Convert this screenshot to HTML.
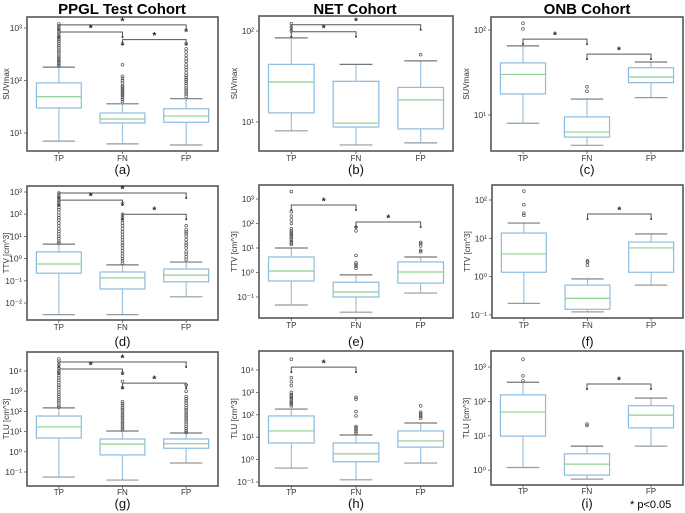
<!DOCTYPE html>
<html><head><meta charset="utf-8">
<style>
html,body{margin:0;padding:0;background:#fff;}
svg{display:block;font-family:"Liberation Sans",sans-serif;}
</style></head>
<body>
<svg id="fig" width="685" height="513" viewBox="0 0 685 513" xmlns="http://www.w3.org/2000/svg">
<text x="122" y="14" font-size="15" font-weight="bold" text-anchor="middle">PPGL Test Cohort</text>
<text x="355" y="14" font-size="15" font-weight="bold" text-anchor="middle">NET Cohort</text>
<text x="587" y="14" font-size="15" font-weight="bold" text-anchor="middle">ONB Cohort</text>
<text x="630" y="508" font-size="11">* p&lt;0.05</text>
</svg>
<script>
// categories
const categories = ["TP","FN","FP"];
// box stats [whiskerLow, q1, median, q3, whiskerHigh]
const boxA = [[7,30,49,90,180],[6.2,15.5,18.5,24,36],[5.9,16,21,29,45]];
const boxB = [[8,12.6,27.5,43,84],[5.6,8.8,9.7,28,43],[5.9,8.4,17.5,24,47]];
const boxC = [[8,17.7,30,41,65],[4.4,5.5,6.3,9.5,15.4],[16,24,28,36,42]];
const boxD = [[0.003,0.22,0.57,2.0,4.5],[0.003,0.043,0.135,0.25,0.52],[0.019,0.09,0.18,0.34,0.7]];
const boxE = [[0.047,0.45,1.15,4.3,10],[0.024,0.1,0.16,0.4,0.8],[0.145,0.37,1.05,2.7,4.3]];
const boxF = [[0.2,1.3,3.9,13.7,25],[0.12,0.14,0.27,0.6,0.87],[0.6,1.3,5.6,8,13]];
const boxG = [[0.056,4.8,17,59,150],[0.04,0.7,2.4,4.3,10.7],[0.28,1.5,2.5,4.3,8.5]];
const boxH = [[0.42,5.5,19,89,180],[0.125,0.8,1.8,5.5,12.5],[0.7,3.6,6.8,19,43]];
const boxI = [[1.2,9.8,49,155,360],[0.55,0.72,1.5,3,5],[5,17,40,75,125]];
// outliers
const outA = [[190,200,215,230,250,270,290,320,350,380,420,460,500,550,600,650,700,800,900,1000,1100,1200],
              [40,44,48,52,56,60,65,70,75,80,90,100,110,120,200,500],
              [50,55,60,66,72,80,88,96,105,115,125,140,160,180,200,230,260,300,350,400,500,900]];
const outB = [[100,110,120],[],[55]];
const outC = [[103,120],[19,21.5],[]];
const outD = [[5,6,8,10,13,17,22,30,40,55,70,90,120,160,200,260,330,420,550,700,900],
              [0.6,0.8,1,1.3,1.7,2.2,3,4,5,7,9,12,16,22,30,40,55,70,100,300],
              [0.9,1.2,1.6,2,3,4,5,7,10,13,16,20,30]];
const outE = [[14,16,18,22,26,30,36,42,50,60,100,140,200,300,2000],[1.5,1.8,2.1,2.5,5,50,70],[7,8,12,15,17]];
const outF = [[40,45,75,170],[2,2.4,2.6],[]];
const outG = [[160,200,260,330,420,550,700,900,1200,1600,2000,2700,3500,4500,6000,8000,10000,14000,20000,30000,40000],
              [12,15,19,24,30,38,48,60,75,95,120,150,190,240,300,1500,3000,8000],
              [9,11,14,18,23,30,38,48,60,75,95,120,150,200,260,330,420,550,1000,2000]];
const outH = [[250,300,350,420,500,600,700,800,1000,2000,3000,4500,30000],[15,18,22,26,30,90,140,500,600],[70,85,100,115,130,250]];
const outI = [[400,550,1700],[20,22],[]];
// significance brackets [fromIndex, toIndex, level]
const brA = [[0,2,1150],[0,1,840],[1,2,600]];
const brB = [[0,2,117],[0,1,98]];
const brC = [[0,1,78],[1,2,52]];
const brD = [[0,2,900],[0,1,430],[1,2,100]];
const brE = [[0,1,570],[1,2,115]];
const brF = [[1,2,43]];
const brG = [[0,2,28000],[0,1,12500],[1,2,2500]];
const brH = [[0,1,13500]];
const brI = [[1,2,320]];
// tick exponents
const ticksA=[1,2,3], ticksB=[1,2], ticksC=[1,2], ticksD=[-2,-1,0,1,2,3], ticksE=[-1,0,1,2,3],
      ticksF=[-1,0,1,2], ticksG=[-1,0,1,2,3,4], ticksH=[-1,0,1,2,3,4], ticksI=[0,1,2,3];
const ylabels = ["SUVmax","SUVmax","SUVmax","TTV [cm^3]","TTV [cm^3]","TTV [cm^3]","TLU [cm^3]","TLU [cm^3]","TLU [cm^3]"];
const letters = ["(a)","(b)","(c)","(d)","(e)","(f)","(g)","(h)","(i)"];

// layout (pixels)
const layout = [
 {f:[27,17,218,151], re:1, rp:133, pd:52.5, lab:174, tk:10},
 {f:[259,16,453,151], re:1, rp:122, pd:91, lab:174, tk:10},
 {f:[491,17,683,151], re:1, rp:115, pd:85, lab:174, tk:10},
 {f:[27,186,218,320], re:3, rp:192, pd:22.2, lab:346, tk:10},
 {f:[259,185,453,318], re:3, rp:199, pd:24.5, lab:346, tk:10},
 {f:[492,185,683,318], re:2, rp:200, pd:38.3, lab:346, tk:10},
 {f:[27,352,218,486], re:4, rp:371, pd:20.2, lab:508, tk:9},
 {f:[259,351,453,486], re:4, rp:370, pd:22.4, lab:508, tk:9},
 {f:[491,351,683,485], re:3, rp:367, pd:34.4, lab:508, tk:9}
];
const boxes=[boxA,boxB,boxC,boxD,boxE,boxF,boxG,boxH,boxI];
const outs=[outA,outB,outC,outD,outE,outF,outG,outH,outI];
const brs=[brA,brB,brC,brD,brE,brF,brG,brH,brI];
const ticks=[ticksA,ticksB,ticksC,ticksD,ticksE,ticksF,ticksG,ticksH,ticksI];

const NS="http://www.w3.org/2000/svg";
const svg=document.getElementById('fig');
function mk(tag,attrs,parent){const e=document.createElementNS(NS,tag);for(const k in attrs)e.setAttribute(k,attrs[k]);(parent||svg).appendChild(e);return e;}
const sup={"-":"⁻","0":"⁰","1":"¹","2":"²","3":"³","4":"⁴"};

for(let p=0;p<9;p++){
  const L=layout[p];
  const [x0,y0,x1,y1]=L.f;
  const g=mk('g',{});
  
  
  const yS=v=>L.rp-(Math.log10(v)-L.re)*L.pd;
  const w=x1-x0;
  const xS=i=>x0+w*(i+0.5)/3;
  const bw=w*0.235;
  const fr=mk('rect',{x:x0,y:y0,width:w,height:y1-y0,fill:'#fff',stroke:'#555','stroke-width':1.6},g);
  
  
  ticks[p].forEach(e=>{
    const y=L.rp-(e-L.re)*L.pd;
    mk('line',{x1:x0-3,x2:x0,y1:y,y2:y,stroke:'#555','stroke-width':0.8},g);
    const t=mk('text',{x:x0-5,y:y+3,'font-size':8.5,'text-anchor':'end',fill:'#333'},g);
    t.textContent='10'+String(e).split('').map(c=>sup[c]).join('');
    
    
  });
  const yt=mk('text',{x:0,y:0,'font-size':8,'text-anchor':'middle',fill:'#333',transform:`translate(${x0-(p%3===0?18:22)},${(y0+y1)/2}) rotate(-90)`},g);
  yt.textContent=ylabels[p];
  
  
  categories.forEach((c,i)=>{
    const b=boxes[p][i], cx=xS(i);
    const bg=mk('g',{},g);
    
    
    mk('line',{x1:cx,x2:cx,y1:yS(b[0]),y2:yS(b[1]),stroke:'#9cc3e0','stroke-width':1.2},bg);
    mk('line',{x1:cx,x2:cx,y1:yS(b[3]),y2:yS(b[4]),stroke:'#9cc3e0','stroke-width':1.2},bg);
    mk('line',{x1:cx-bw*0.36,x2:cx+bw*0.36,y1:yS(b[0]),y2:yS(b[0]),stroke:'#999','stroke-width':1.2},bg);
    mk('line',{x1:cx-bw*0.36,x2:cx+bw*0.36,y1:yS(b[4]),y2:yS(b[4]),stroke:'#777','stroke-width':1.2},bg);
    mk('rect',{x:cx-bw/2,y:yS(b[3]),width:bw,height:yS(b[1])-yS(b[3]),fill:'#fff',stroke:'#8dbbe0','stroke-width':1.2},bg);
    mk('line',{x1:cx-bw/2,x2:cx+bw/2,y1:yS(b[2]),y2:yS(b[2]),stroke:'#90d090','stroke-width':1.2},bg);
    outs[p][i].forEach(v=>{
      const o=mk('circle',{cx:cx,cy:yS(v),r:1.4,fill:'none',stroke:'#555','stroke-width':0.7},bg);
      
      
    });
    mk('line',{x1:cx,x2:cx,y1:y1,y2:y1+3,stroke:'#555','stroke-width':0.8},g);
    const xt=mk('text',{x:cx,y:y1+L.tk,'font-size':8,'text-anchor':'middle',fill:'#333'},g);
    xt.textContent=c;
    
    
  });
  brs[p].forEach(br=>{
    const xa=xS(br[0]), xb=xS(br[1]), y=yS(br[2]);
    const bg=mk('g',{},g);
    
    
    mk('polyline',{points:`${xa},${y+5} ${xa},${y} ${xb},${y} ${xb},${y+5}`,fill:'none',stroke:'#555','stroke-width':1},bg);
    mk('circle',{cx:xa,cy:y+5,r:1,fill:'#333'},bg);
    mk('circle',{cx:xb,cy:y+5,r:1,fill:'#333'},bg);
    const s=mk('text',{x:(xa+xb)/2,y:y-0.5,'font-size':10,'font-weight':'bold','text-anchor':'middle',fill:'#222'},bg);
    s.textContent='*';
  });
  const lt=mk('text',{x:(x0+x1)/2,y:L.lab,'font-size':13,'text-anchor':'middle',fill:'#111'},g);
  lt.textContent=letters[p];
  
  
}
</script>
</body></html>
